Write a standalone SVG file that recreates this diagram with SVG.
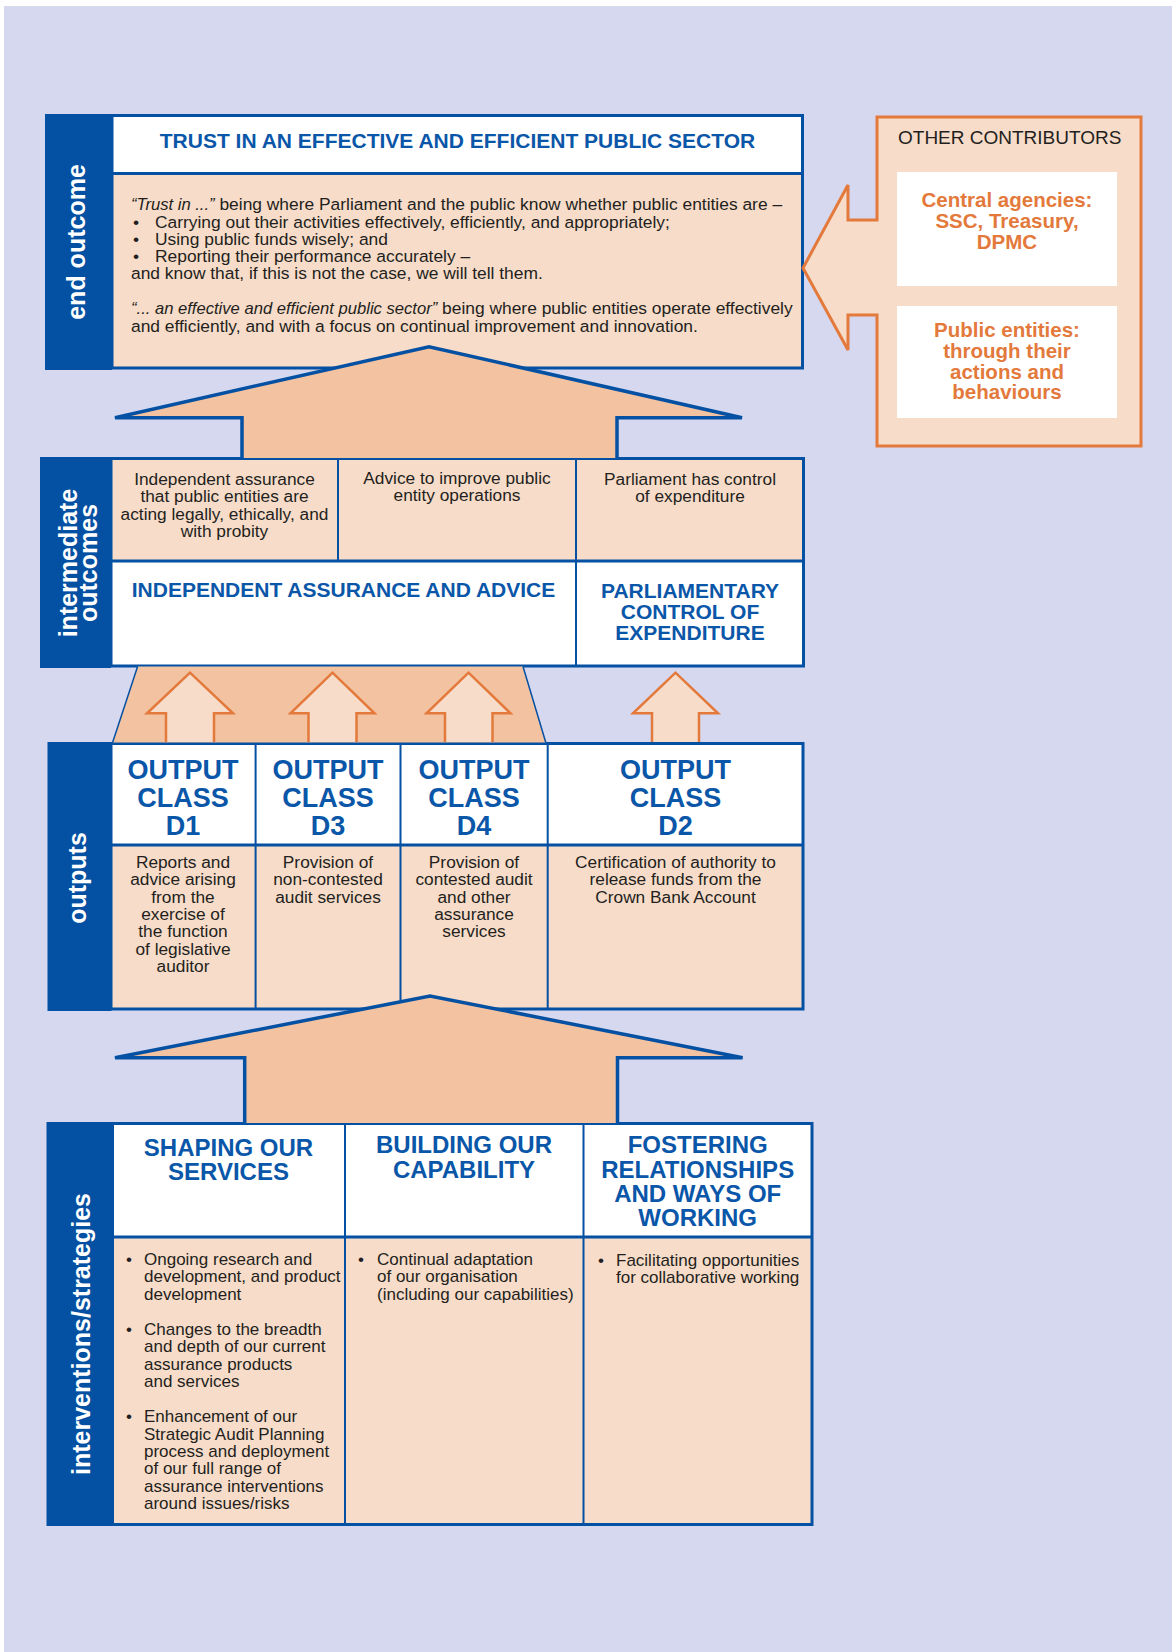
<svg xmlns="http://www.w3.org/2000/svg" width="1172" height="1652" viewBox="0 0 1172 1652">
<style>
text{font-family:"Liberation Sans",Arial,sans-serif}
.side{font-weight:bold;font-size:25px;fill:#fff;text-anchor:middle}
.h1{font-weight:bold;font-size:21px;fill:#0a56a8;text-anchor:middle}
.bd{font-size:17.3px;fill:#231f20}
.eo{font-size:17.4px}
.it{font-style:italic;font-size:16.6px}
.iv2{font-size:17px}
.c{text-anchor:middle}
.oc{font-weight:bold;font-size:27px;fill:#0a56a8;text-anchor:middle}
.iv{font-weight:bold;font-size:24px;fill:#0a56a8;text-anchor:middle}
.ct{font-weight:bold;font-size:20.5px;fill:#e3793b;text-anchor:middle}
.sb{fill:#0450a2}
.pe{fill:#f7dcc9}
.wh{fill:#fff}
.ln{stroke:#0450a2;stroke-width:3;fill:none}
.dv{stroke:#0450a2;stroke-width:2;fill:none}
.big{fill:#f2c2a1;stroke:#0450a2;stroke-width:3.5;stroke-linejoin:miter}
.sm{fill:#f7dcc9;stroke:#e3793b;stroke-width:2.5}
</style>
<rect x="0" y="0" width="1172" height="1652" fill="#fff"/>
<rect x="4" y="6" width="1168" height="1646" fill="#d6d8f0"/>

<g id="end-outcome">
<rect class="sb" x="45" y="114" width="67" height="256"/>
<text class="side" transform="translate(85,242) rotate(-90)">end outcome</text>
<rect class="pe" x="112" y="115.5" width="690.5" height="252.5"/>
<rect class="wh" x="112" y="115.5" width="690.5" height="58"/>
<rect class="ln" x="112" y="115.5" width="690.5" height="252.5"/>
<line class="ln" x1="112" y1="173.5" x2="802.5" y2="173.5"/>
<text class="h1" x="457.5" y="148">TRUST IN AN EFFECTIVE AND EFFICIENT PUBLIC SECTOR</text>
<g class="bd eo">
<text x="131" y="210"><tspan class="it">“Trust in ...”</tspan> being where Parliament and the public know whether public entities are –</text>
<text x="133" y="227.5">•</text><text x="155" y="227.5">Carrying out their activities effectively, efficiently, and appropriately;</text>
<text x="133" y="244.8">•</text><text x="155" y="244.8">Using public funds wisely; and</text>
<text x="133" y="262">•</text><text x="155" y="262">Reporting their performance accurately –</text>
<text x="131" y="279.3">and know that, if this is not the case, we will tell them.</text>
<text x="131" y="314"><tspan class="it">“... an effective and efficient public sector”</tspan> being where public entities operate effectively</text>
<text x="131" y="331.5">and efficiently, and with a focus on continual improvement and innovation.</text>
</g>
</g>

<g id="other-contributors">
<path d="M877,117 L1141,117 L1141,446 L877,446 L877,315 L848,315 L848,350 L803,268 L848,185 L848,220 L877,220 Z" fill="#f7dcc9" stroke="#e3793b" stroke-width="3" stroke-linejoin="miter"/>
<text x="898" y="144" font-size="19" fill="#231f20">OTHER CONTRIBUTORS</text>
<rect class="wh" x="897" y="172" width="220" height="114"/>
<rect class="wh" x="897" y="306" width="220" height="112"/>
<text class="ct" x="1007" y="207">Central agencies:</text>
<text class="ct" x="1007" y="228">SSC, Treasury,</text>
<text class="ct" x="1007" y="248.5">DPMC</text>
<text class="ct" x="1007" y="337">Public entities:</text>
<text class="ct" x="1007" y="358">through their</text>
<text class="ct" x="1007" y="378.5">actions and</text>
<text class="ct" x="1007" y="399">behaviours</text>
</g>

<g id="intermediate-outcomes">
<rect class="sb" x="40" y="457" width="71" height="211"/>
<text class="side" transform="translate(77,563) rotate(-90)">intermediate</text>
<text class="side" transform="translate(97,563) rotate(-90)">outcomes</text>
<rect class="pe" x="111" y="458.5" width="692.5" height="102.5"/>
<rect class="wh" x="111" y="561" width="692.5" height="105"/>
<rect class="ln" x="111" y="458.5" width="692.5" height="207.5"/>
<line class="ln" x1="111" y1="561" x2="803.5" y2="561"/>
<line class="dv" x1="338" y1="458.5" x2="338" y2="561"/>
<line class="dv" x1="576" y1="458.5" x2="576" y2="666"/>
<g class="bd c">
<text x="224.5" y="485">Independent assurance</text>
<text x="224.5" y="502.3">that public entities are</text>
<text x="224.5" y="519.6">acting legally, ethically, and</text>
<text x="224.5" y="537">with probity</text>
<text x="457" y="484">Advice to improve public</text>
<text x="457" y="501.3">entity operations</text>
<text x="690" y="485">Parliament has control</text>
<text x="690" y="502.3">of expenditure</text>
</g>
<text class="h1" x="343.5" y="597">INDEPENDENT ASSURANCE AND ADVICE</text>
<text class="h1" x="690" y="598.3">PARLIAMENTARY</text>
<text class="h1" x="690" y="619.3">CONTROL OF</text>
<text class="h1" x="690" y="640.3">EXPENDITURE</text>
</g>

<g id="outputs">
<rect class="sb" x="47.5" y="742" width="64" height="269"/>
<text class="side" transform="translate(86,878) rotate(-90)">outputs</text>
<rect class="pe" x="111" y="743.5" width="692" height="265.5"/>
<rect class="wh" x="111" y="743.5" width="692" height="101.5"/>
<rect class="ln" x="111" y="743.5" width="692" height="265.5"/>
<line class="ln" x1="111" y1="845" x2="803" y2="845"/>
<line class="dv" x1="255.6" y1="743.5" x2="255.6" y2="1009"/>
<line class="dv" x1="400.5" y1="743.5" x2="400.5" y2="1009"/>
<line class="dv" x1="547.7" y1="743.5" x2="547.7" y2="1009"/>
<text class="oc" x="183" y="779.3">OUTPUT</text><text class="oc" x="183" y="807.3">CLASS</text><text class="oc" x="183" y="835">D1</text>
<text class="oc" x="328" y="779.3">OUTPUT</text><text class="oc" x="328" y="807.3">CLASS</text><text class="oc" x="328" y="835">D3</text>
<text class="oc" x="474" y="779.3">OUTPUT</text><text class="oc" x="474" y="807.3">CLASS</text><text class="oc" x="474" y="835">D4</text>
<text class="oc" x="675.5" y="779.3">OUTPUT</text><text class="oc" x="675.5" y="807.3">CLASS</text><text class="oc" x="675.5" y="835">D2</text>
<g class="bd c">
<text x="183" y="867.7">Reports and</text>
<text x="183" y="885.1">advice arising</text>
<text x="183" y="902.5">from the</text>
<text x="183" y="919.9">exercise of</text>
<text x="183" y="937.3">the function</text>
<text x="183" y="954.7">of legislative</text>
<text x="183" y="972.1">auditor</text>
<text x="328" y="867.7">Provision of</text>
<text x="328" y="885.1">non-contested</text>
<text x="328" y="902.5">audit services</text>
<text x="474" y="867.7">Provision of</text>
<text x="474" y="885.1">contested audit</text>
<text x="474" y="902.5">and other</text>
<text x="474" y="919.9">assurance</text>
<text x="474" y="937.3">services</text>
<text x="675.5" y="867.7">Certification of authority to</text>
<text x="675.5" y="885.1">release funds from the</text>
<text x="675.5" y="902.5">Crown Bank Account</text>
</g>
</g>

<g id="interventions">
<rect class="sb" x="46.5" y="1122" width="66" height="404"/>
<text class="side" font-size="31" transform="translate(90,1334) rotate(-90)">interventions/strategies</text>
<rect class="pe" x="112.5" y="1123.5" width="699.5" height="401"/>
<rect class="wh" x="112.5" y="1123.5" width="699.5" height="113.5"/>
<rect class="ln" x="112.5" y="1123.5" width="699.5" height="401"/>
<line class="ln" x1="112.5" y1="1237" x2="812" y2="1237"/>
<line class="dv" x1="345" y1="1123.5" x2="345" y2="1524.5"/>
<line class="dv" x1="583.5" y1="1123.5" x2="583.5" y2="1524.5"/>
<text class="iv" x="228.5" y="1156">SHAPING OUR</text><text class="iv" x="228.5" y="1180">SERVICES</text>
<text class="iv" x="464" y="1153.3">BUILDING OUR</text><text class="iv" x="464" y="1177.5">CAPABILITY</text>
<text class="iv" x="697.7" y="1153.3">FOSTERING</text><text class="iv" x="697.7" y="1177.8">RELATIONSHIPS</text><text class="iv" x="697.7" y="1202">AND WAYS OF</text><text class="iv" x="697.7" y="1226">WORKING</text>
<g class="bd iv2">
<text x="126" y="1265">•</text>
<text x="144" y="1265">Ongoing research and</text>
<text x="144" y="1282.3">development, and product</text>
<text x="144" y="1299.6">development</text>
<text x="126" y="1335">•</text>
<text x="144" y="1335">Changes to the breadth</text>
<text x="144" y="1352.3">and depth of our current</text>
<text x="144" y="1369.6">assurance products</text>
<text x="144" y="1386.9">and services</text>
<text x="126" y="1422.3">•</text>
<text x="144" y="1422.3">Enhancement of our</text>
<text x="144" y="1439.6">Strategic Audit Planning</text>
<text x="144" y="1456.9">process and deployment</text>
<text x="144" y="1474.2">of our full range of</text>
<text x="144" y="1491.5">assurance interventions</text>
<text x="144" y="1508.8">around issues/risks</text>
<text x="358" y="1265">•</text>
<text x="377" y="1265">Continual adaptation</text>
<text x="377" y="1282.3">of our organisation</text>
<text x="377" y="1299.6">(including our capabilities)</text>
<text x="598" y="1266">•</text>
<text x="616" y="1266">Facilitating opportunities</text>
<text x="616" y="1283.3">for collaborative working</text>
</g>
</g>

<g id="connectors">
<path d="M137.6,666.5 L523,666.5 L545.8,742.5 L112.6,742.5 Z" fill="#f2c2a1"/>
<path d="M137.6,666.5 L112.6,742.5 M523,666.5 L545.8,742.5" stroke="#0450a2" stroke-width="1.5" fill="none"/>
<path class="sm" d="M166,742 L166,713.3 L147,713.3 L190,672.7 L233,713.3 L214,713.3 L214,742"/>
<path class="sm" d="M308.5,742 L308.5,713.3 L290.5,713.3 L332.5,672.7 L374.5,713.3 L356.5,713.3 L356.5,742"/>
<path class="sm" d="M445,742 L445,713.3 L426.5,713.3 L468.5,672.7 L510.5,713.3 L492.5,713.3 L492.5,742"/>
<path class="sm" d="M652,742 L652,713.3 L633,713.3 L675.5,672.7 L718,713.3 L699,713.3 L699,742"/>
<path class="big" d="M242,458 L242,417.7 L115,417.7 L429,346.7 L742,417.7 L617,417.7 L617,458"/>
<path class="big" d="M244.7,1123 L244.7,1057.7 L115,1057.7 L430,996 L742.6,1057.7 L617.5,1057.7 L617.5,1123"/>
</g>
</svg>
